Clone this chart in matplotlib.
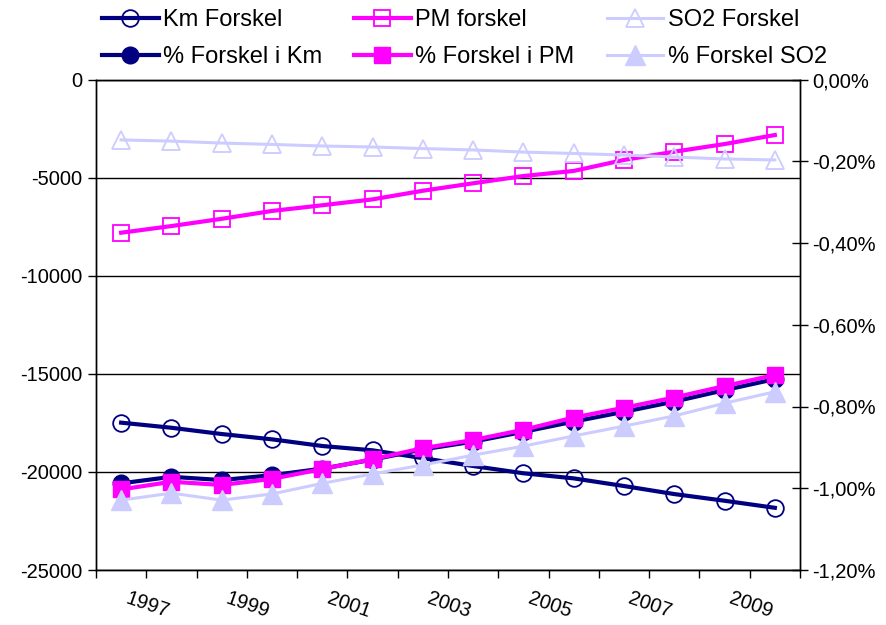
import numpy as np
import matplotlib
matplotlib.use("Agg")
import matplotlib.pyplot as plt
from matplotlib.ticker import FuncFormatter

# yearly differences, left axis (absolute)
years = list(range(1996, 2010))
km_diff = [-17490, -17750, -18070, -18340, -18680, -18900, -19300,
           -19700, -20070, -20330, -20720, -21130, -21470, -21830]
pm_diff = [-7810, -7470, -7100, -6700, -6410, -6110, -5670,
           -5290, -4920, -4660, -4100, -3680, -3290, -2830]
so2_diff = [-3080, -3140, -3240, -3310, -3390, -3440, -3520,
            -3590, -3700, -3770, -3850, -3950, -4050, -4100]

# yearly differences, right axis (percent)
km_pct = [-0.988, -0.972, -0.980, -0.968, -0.952, -0.930, -0.905,
          -0.886, -0.862, -0.837, -0.813, -0.788, -0.760, -0.733]
pm_pct = [-1.003, -0.984, -0.992, -0.977, -0.953, -0.929, -0.902,
          -0.882, -0.857, -0.827, -0.803, -0.778, -0.750, -0.723]
so2_pct = [-1.029, -1.012, -1.029, -1.014, -0.988, -0.965, -0.943,
           -0.919, -0.897, -0.872, -0.848, -0.823, -0.792, -0.764]

label_years = [y for y in years if y % 2 == 1]

plt.rcParams['font.family'] = ['Liberation Sans', 'DejaVu Sans']
plt.rcParams['axes.unicode_minus'] = False

NAVY = '#000080'
MAGENTA = '#FF00FF'
LAVENDER = '#CCCCFF'

fig = plt.figure(figsize=(8.87, 6.25), dpi=100)
ax = fig.add_axes([0.1082, 0.088, 0.7937, 0.7848])
ax2 = ax.twinx()

km_line, = ax.plot(years, km_diff, color=NAVY, lw=3, marker='o', ms=12,
                   mfc='none', mec=NAVY, mew=1.3, label='Km Forskel')
pm_line, = ax.plot(years, pm_diff, color=MAGENTA, lw=3, marker='s', ms=12,
                   mfc='none', mec=MAGENTA, mew=1.3, label='PM forskel')
so2_line, = ax.plot(years, so2_diff, color=LAVENDER, lw=2.2, marker='^', ms=13,
                    mfc='none', mec=LAVENDER, mew=1.3, label='SO2 Forskel')

km_p, = ax2.plot(years, km_pct, color=NAVY, lw=3, marker='o', ms=12,
                 mfc=NAVY, mec=NAVY, label='% Forskel i Km')
pm_p, = ax2.plot(years, pm_pct, color=MAGENTA, lw=3, marker='s', ms=12,
                 mfc=MAGENTA, mec=MAGENTA, label='% Forskel i PM')
so2_p, = ax2.plot(years, so2_pct, color=LAVENDER, lw=2.2, marker='^', ms=14,
                  mfc=LAVENDER, mec=LAVENDER, label='% Forskel SO2')

# left axis
ax.set_xlim(1995.5, 2009.5)
ax.set_ylim(-25000, 0)
ax.set_yticks(range(-25000, 1, 5000))
ax.yaxis.grid(True, color='black', lw=1)
ax.set_axisbelow(True)
ax.tick_params(axis='y', direction='out', length=6, width=1, labelsize=14.5, pad=4)

# category boundaries as ticks, labels every second year under the centres
ax.set_xticks(np.arange(1995.5, 2010, 1.0))
ax.set_xticklabels([])
ax.set_xticks(label_years, minor=True)
ax.set_xticklabels([str(y) for y in label_years], minor=True, rotation=-19,
                   ha='right', va='top', rotation_mode='anchor')
ax.tick_params(axis='x', which='major', direction='out', length=6, width=1)
ax.tick_params(axis='x', which='minor', length=0, pad=24, labelsize=14.5)

# right axis
ax2.set_ylim(-1.2, 0)
ax2.set_yticks(np.arange(-1.2, 0.01, 0.2))
ax2.yaxis.set_major_formatter(
    FuncFormatter(lambda v, pos: f"{v:.2f}%".replace('.', ',').replace('-0,00', '0,00')))
ax2.tick_params(axis='y', direction='inout', length=12, width=1, labelsize=14.5, pad=3)

for a in (ax, ax2):
    for s in a.spines.values():
        s.set_linewidth(1)
        s.set_color('black')

# legend: three columns, open markers on top row, filled below
col_x = [0.115, 0.399, 0.684]
pairs = [(km_line, km_p), (pm_line, pm_p), (so2_line, so2_p)]
for x, (h1, h2) in zip(col_x, pairs):
    fig.legend(handles=[h1, h2], loc='upper left', bbox_to_anchor=(x, 0.985),
               frameon=False, fontsize=17, handlelength=2.4, handletextpad=0.2,
               borderpad=0, borderaxespad=0, labelspacing=0.62)

fig.savefig('out.png', dpi=100)
